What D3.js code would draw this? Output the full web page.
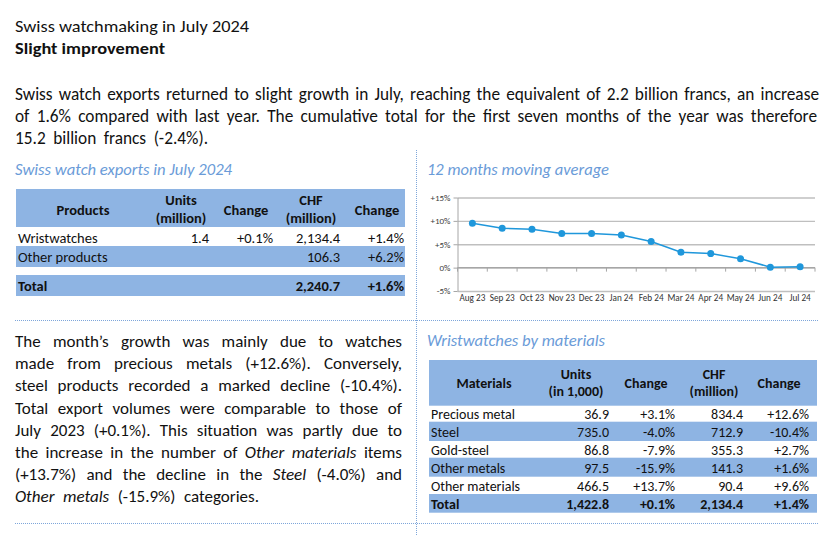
<!DOCTYPE html>
<html><head><meta charset="utf-8">
<script src="https://cdn.jsdelivr.net/npm/d3@7"></script>
<style>
html,body{margin:0;padding:0;background:#fff;}
svg{display:block;font-family:Carlito, Lato, "Open Sans", sans-serif;}
</style></head><body>
<svg id="c" width="836" height="535"></svg>
<script>
// ---------- data ----------
const months = ["Aug 23","Sep 23","Oct 23","Nov 23","Dec 23","Jan 24","Feb 24","Mar 24","Apr 24","May 24","Jun 24","Jul 24"];
const movingAverage = [9.5, 8.4, 8.2, 7.3, 7.3, 7.0, 5.6, 3.3, 3.0, 1.9, 0.1, 0.2];
const yTicks = [-5, 0, 5, 10, 15];
const yTickLabels = ["-5%", "0%", "+5%", "+10%", "+15%"];

const productHeaders = [["Products"], ["Units", "(million)"], ["Change"], ["CHF", "(million)"], ["Change"]];
const productNames = ["Wristwatches", "Other products", "Total"];
const productUnits = ["1.4", "", ""];
const productUnitsChange = ["+0.1%", "", ""];
const productCHF = ["2,134.4", "106.3", "2,240.7"];
const productCHFChange = ["+1.4%", "+6.2%", "+1.6%"];

const materialHeaders = [["Materials"], ["Units", "(in 1,000)"], ["Change"], ["CHF", "(million)"], ["Change"]];
const materialNames = ["Precious metal", "Steel", "Gold-steel", "Other metals", "Other materials", "Total"];
const materialUnits = ["36.9", "735.0", "86.8", "97.5", "466.5", "1,422.8"];
const materialUnitsChange = ["+3.1%", "-4.0%", "-7.9%", "-15.9%", "+13.7%", "+0.1%"];
const materialCHF = ["834.4", "712.9", "355.3", "141.3", "90.4", "2,134.4"];
const materialCHFChange = ["+12.6%", "-10.4%", "+2.7%", "+1.6%", "+9.6%", "+1.4%"];

const titleText = "Swiss watchmaking in July 2024";
const subtitleText = "Slight improvement";
const introLines = [
  "Swiss watch exports returned to slight growth in July, reaching the equivalent of 2.2 billion francs, an increase",
  "of 1.6% compared with last year. The cumulative total for the first seven months of the year was therefore",
  "15.2 billion francs (-2.4%)."
];
const commentLines = [
  "The month’s growth was mainly due to watches",
  "made from precious metals (+12.6%). Conversely,",
  "steel products recorded a marked decline (-10.4%).",
  "Total export volumes were comparable to those of",
  "July 2023 (+0.1%). This situation was partly due to",
  "the increase in the number of *Other materials* items",
  "(+13.7%) and the decline in the *Steel* (-4.0%) and",
  "*Other metals* (-15.9%) categories."
];
const sectionTitles = ["Swiss watch exports in July 2024", "12 months moving average", "Wristwatches by materials"];

// ---------- styles ----------
const BLUE = "#8EB4E3";
const TITLE_BLUE = "#6A9BD8";
const LINE = "#1F97DB";
const DOT = "#7EA6DA";

const svg = d3.select("#c");
svg.append("rect").attr("width", 836).attr("height", 535).attr("fill", "#fff");

function fit(sel, w) { return sel.attr("textLength", w).attr("lengthAdjust", "spacingAndGlyphs"); }

// justified line: each word is its own <text> so shaping never crosses words
function justifyLine(parent, str, x0, x1, y, fs) {
  let italic = false;
  const words = str.split(" ").map(t => {
    let it = italic, w = t;
    if (w.startsWith("*")) { it = true; italic = true; w = w.slice(1); }
    if (w.endsWith("*")) { italic = false; w = w.slice(0, -1); }
    return { w, it };
  });
  const g = parent.append("g").attr("font-size", fs).attr("fill", "#111");
  const texts = g.selectAll("text").data(words).join("text")
    .attr("y", y).text(d => d.w).attr("font-style", d => d.it ? "italic" : null);
  const widths = texts.nodes().map(n => n.getComputedTextLength());
  const total = d3.sum(widths);
  const gap = words.length > 1 ? (x1 - x0 - total) / (words.length - 1) : 0;
  let x = x0;
  texts.attr("x", (d, i) => { const v = x; x += widths[i] + gap; return v; });
}

// ---------- header text ----------
fit(svg.append("text").attr("x", 15).attr("y", 32).attr("font-size", 16.5).attr("fill", "#111").text(titleText), 234);
fit(svg.append("text").attr("x", 15).attr("y", 54).attr("font-size", 16.5).attr("font-weight", "bold").attr("fill", "#111").text(subtitleText), 150);

const introEnds = [819, 817, 208];
introLines.forEach((l, i) => justifyLine(svg, l, 15, introEnds[i], 100 + i * 22, 17.3));

// ---------- dividers ----------
const div = svg.append("g").attr("stroke", DOT).attr("stroke-width", 1).attr("stroke-dasharray", "1,1");
div.append("line").attr("x1", 416.5).attr("x2", 416.5).attr("y1", 150).attr("y2", 535);
div.append("line").attr("x1", 15).attr("x2", 818).attr("y1", 320.5).attr("y2", 320.5);
div.append("line").attr("x1", 15).attr("x2", 818).attr("y1", 523.5).attr("y2", 523.5);

// ---------- section titles ----------
const stPos = [[15, 175, 217], [427, 175, 182], [427, 346, 178]];
sectionTitles.forEach((t, i) => {
  fit(svg.append("text").attr("x", stPos[i][0]).attr("y", stPos[i][1]).attr("font-size", 16.5)
    .attr("font-style", "italic").attr("fill", TITLE_BLUE).text(t), stPos[i][2]);
});

// ---------- tables ----------
function drawTable(cfg) {
  const g = svg.append("g").attr("font-size", cfg.fs).attr("fill", "#111");
  g.append("rect").attr("x", cfg.x0).attr("y", cfg.hTop).attr("width", cfg.x1 - cfg.x0)
    .attr("height", cfg.hBot - cfg.hTop).attr("fill", BLUE);
  cfg.headers.forEach((lines, c) => {
    const t = g.append("text").attr("text-anchor", "middle").attr("font-weight", "bold");
    if (lines.length === 1) {
      t.append("tspan").attr("x", cfg.hCenters[c]).attr("y", cfg.hSingle).text(lines[0]);
    } else {
      lines.forEach((l, k) => t.append("tspan").attr("x", cfg.hCenters[c]).attr("y", cfg.hLines[k]).text(l));
    }
  });
  cfg.rows.forEach((r, i) => {
    if (r.fill) g.append("rect").attr("x", cfg.x0).attr("y", r.top).attr("width", cfg.x1 - cfg.x0)
      .attr("height", r.bot - r.top).attr("fill", BLUE);
    const bold = r.bold ? "bold" : null;
    g.append("text").attr("x", cfg.nameX).attr("y", r.base).attr("font-weight", bold).text(cfg.names[i]);
    cfg.cols.forEach((col, c) => {
      if (col[i]) g.append("text").attr("x", cfg.colEnds[c]).attr("y", r.base).attr("text-anchor", "end")
        .attr("font-weight", bold).text(col[i]);
    });
  });
}

drawTable({
  x0: 16, x1: 405, hTop: 189, hBot: 227, fs: 14.5,
  headers: productHeaders, hCenters: [83, 181, 246, 311, 377], hSingle: 215, hLines: [205, 223],
  nameX: 18, names: productNames,
  cols: [productUnits, productUnitsChange, productCHF, productCHFChange],
  colEnds: [209, 273, 340, 404],
  rows: [
    { top: 227, bot: 246, base: 242.5, fill: false },
    { top: 246, bot: 267, base: 262, fill: true },
    { top: 275, bot: 296, base: 291, fill: true, bold: true }
  ]
});

const mBounds = [405.7, 421.7, 441, 457.7, 476.7, 494, 512.7];
drawTable({
  x0: 429, x1: 817, hTop: 360, hBot: 405.7, fs: 14,
  headers: materialHeaders, hCenters: [484, 576, 646, 714, 779], hSingle: 388, hLines: [379, 396],
  nameX: 431, names: materialNames,
  cols: [materialUnits, materialUnitsChange, materialCHF, materialCHFChange],
  colEnds: [609, 675, 743, 809],
  rows: materialNames.map((n, i) => ({
    top: mBounds[i], bot: mBounds[i + 1], base: 419 + i * 18, fill: i % 2 === 1, bold: i === 5
  }))
});

// ---------- line chart ----------
const x = d3.scaleBand().domain(months).range([457.5, 815]);
const y = d3.scaleLinear().domain([-5, 15]).range([291, 197.5]);
const chart = svg.append("g");

// gridlines
chart.append("g").attr("transform", "translate(457.5,0)")
  .call(d3.axisLeft(y).tickValues(yTicks).tickSize(-(815 - 457.5)).tickFormat(""))
  .call(g => g.select(".domain").remove())
  .call(g => g.selectAll("line").attr("stroke", "#BFBFBF").attr("stroke-width", 1.3));

// y axis
chart.append("g").attr("transform", "translate(457.5,0)")
  .call(d3.axisLeft(y).tickValues(yTicks).tickFormat((d, i) => yTickLabels[i]).tickSize(4).tickSizeOuter(0).tickPadding(3))
  .call(g => g.select(".domain").attr("stroke", "#A6A6A6"))
  .call(g => g.selectAll("line").attr("stroke", "#A6A6A6"))
  .call(g => g.selectAll("text").attr("font-size", 9).attr("fill", "#404040").attr("font-family", "Carlito, Lato, sans-serif"));

// zero line with boundary ticks
const zero = chart.append("g").attr("transform", `translate(0,${y(0)})`);
zero.append("line").attr("x1", 457.5).attr("x2", 815).attr("stroke", "#A6A6A6").attr("stroke-width", 1.3);
zero.selectAll("line.tk").data(months.map(m => x(m)).concat([x.range()[1]])).join("line")
  .attr("class", "tk").attr("x1", d => d).attr("x2", d => d).attr("y1", 0).attr("y2", 4)
  .attr("stroke", "#A6A6A6");

// x labels
chart.append("g").attr("transform", `translate(0,${y(-5)})`)
  .call(d3.axisBottom(x).tickSize(0).tickPadding(3.5))
  .call(g => g.select(".domain").remove())
  .call(g => g.selectAll("text").attr("font-size", 9.2).attr("fill", "#333").attr("font-family", "Carlito, Lato, sans-serif"));

// series
chart.append("path").datum(movingAverage)
  .attr("d", d3.line().x((d, i) => x(months[i]) + x.bandwidth() / 2).y(d => y(d)))
  .attr("fill", "none").attr("stroke", LINE).attr("stroke-width", 1.5);
chart.selectAll("circle.pt").data(movingAverage).join("circle").attr("class", "pt")
  .attr("cx", (d, i) => x(months[i]) + x.bandwidth() / 2).attr("cy", d => y(d)).attr("r", 3.5)
  .attr("fill", LINE);

// ---------- comment paragraph ----------
const commentEnds = [402, 402, 402, 402, 402, 402, 402, 259];
commentLines.forEach((l, i) => justifyLine(svg, l, 15, commentEnds[i], 347 + i * 22.2, 17));
</script>
</body></html>
